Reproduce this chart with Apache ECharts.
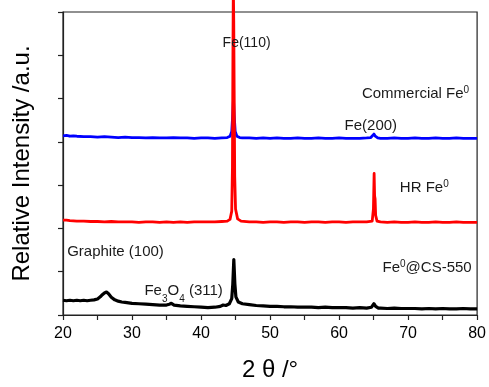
<!DOCTYPE html>
<html>
<head>
<meta charset="utf-8">
<script src="https://cdn.jsdelivr.net/npm/echarts@6/dist/echarts.min.js"></script>
<style>
  html, body { margin: 0; padding: 0; background: #fff; }
  #chart { width: 489px; height: 387px; }
</style>
</head>
<body>
<div id="chart"></div>
<script>
// XRD patterns: [2θ (deg), offset intensity (a.u.)]
const commercialFe = [
  [20,4.14],[20.5,4.15],[21,4.13],[21.5,4.14],[22,4.13],[23,4.12],[24,4.12],[25,4.11],[26,4.12],[27,4.11],
  [28,4.10],[29,4.11],[30,4.10],[31,4.10],[32,4.09],[33,4.10],[34,4.09],[35,4.09],[36,4.10],[37,4.09],
  [38,4.09],[39,4.08],[40,4.09],[41,4.09],[42,4.08],[43,4.09],[43.8,4.10],[44.2,4.13],[44.45,4.24],[44.6,4.65],
  [44.7,4.99],[44.8,4.62],[44.95,4.24],[45.2,4.13],[45.6,4.10],[46,4.09],[47,4.09],[48,4.08],[49,4.09],[50,4.08],
  [51,4.09],[52,4.08],[53,4.08],[54,4.09],[55,4.08],[56,4.08],[57,4.09],[58,4.08],[59,4.08],[60,4.09],
  [61,4.08],[62,4.08],[63,4.08],[64,4.09],[64.6,4.10],[64.85,4.14],[65.05,4.18],[65.25,4.13],[65.6,4.09],[66,4.08],
  [67,4.08],[68,4.09],[69,4.08],[70,4.08],[71,4.09],[72,4.08],[73,4.08],[74,4.09],[75,4.08],[76,4.08],
  [77,4.09],[78,4.08],[79,4.08],[80,4.08]
];
const hrFe = [
  [20,2.19],[20.5,2.19],[21,2.18],[22,2.17],[23,2.17],[24,2.16],[25,2.16],[26,2.15],[27,2.16],[28,2.15],
  [29,2.15],[30,2.15],[31,2.14],[32,2.15],[33,2.15],[34,2.14],[35,2.15],[36,2.14],[37,2.15],[38,2.14],
  [39,2.15],[40,2.15],[41,2.15],[42,2.15],[43,2.16],[43.8,2.17],[44.2,2.21],[44.45,2.40],[44.55,3.40],[44.62,6.00],
  [44.68,7.60],[44.74,6.80],[44.80,5.20],[44.88,3.20],[45.0,2.45],[45.3,2.22],[45.8,2.17],[46,2.16],[47,2.15],[48,2.15],
  [49,2.14],[50,2.15],[51,2.15],[52,2.14],[53,2.15],[54,2.15],[55,2.14],[56,2.15],[57,2.15],[58,2.14],
  [59,2.15],[60,2.15],[61,2.14],[62,2.15],[63,2.15],[64,2.15],[64.8,2.17],[64.98,2.45],[65.08,3.27],[65.15,2.75],
  [65.22,2.68],[65.3,2.30],[65.5,2.17],[66,2.15],[67,2.14],[68,2.15],[69,2.14],[70,2.14],[71,2.15],[72,2.14],
  [73,2.14],[74,2.15],[75,2.14],[76,2.14],[77,2.15],[78,2.14],[79,2.14],[80,2.14]
];
const feCs550 = [
  [20,0.34],[20.5,0.33],[21,0.34],[21.5,0.33],[22,0.34],[22.5,0.33],[23,0.34],[23.5,0.33],[24,0.34],[24.5,0.35],
  [25,0.37],[25.4,0.42],[25.7,0.47],[26,0.51],[26.3,0.53],[26.6,0.49],[27,0.41],[27.5,0.35],[28,0.32],[28.5,0.30],
  [29,0.29],[30,0.27],[31,0.26],[32,0.25],[33,0.24],[34,0.23],[35,0.23],[35.4,0.25],[35.7,0.27],[36.1,0.23],
  [37,0.21],[38,0.20],[39,0.19],[40,0.18],[41,0.17],[42,0.18],[42.8,0.20],[43.2,0.23],[43.6,0.22],[44.1,0.26],
  [44.45,0.38],[44.6,0.70],[44.75,1.28],[44.9,0.72],[45.05,0.42],[45.4,0.30],[46,0.26],[47,0.24],[48,0.22],[49,0.21],
  [50,0.20],[51,0.20],[52,0.19],[53,0.19],[54,0.18],[55,0.18],[56,0.18],[57,0.17],[58,0.18],[59,0.17],
  [60,0.17],[61,0.17],[62,0.16],[63,0.17],[64,0.16],[64.7,0.18],[65.05,0.26],[65.3,0.20],[65.7,0.16],[66,0.16],
  [67,0.15],[68,0.16],[69,0.15],[70,0.15],[71,0.15],[72,0.14],[73,0.15],[74,0.14],[75,0.15],[76,0.14],
  [77,0.14],[78,0.15],[79,0.14],[80,0.14]
];
const xTickLabels = ['20', '30', '40', '50', '60', '70', '80'];

// Peak / sample annotations anchored in data space [2θ, intensity]
const annotations = [
  { text: '{m|Fe(110)}',                       at: [46.6, 6.27],  align: 'center' },
  { text: '{t|Commercial Fe}{s|0}',            at: [78.85, 5.10], align: 'right' },
  { text: '{t|Fe(200)}',                       at: [64.6, 4.37],  align: 'center' },
  { text: '{t|HR Fe}{s|0}',                    at: [68.8, 2.93],  align: 'left' },
  { text: '{t|Graphite (100)}',                at: [20.6, 1.46],  align: 'left' },
  { text: '{t|Fe}{b|3}{t|O}{b|4}{t| (311)}',   at: [31.8, 0.55],  align: 'left' },
  { text: '{t|Fe}{s|0}{t|@CS-550}',            at: [66.3, 1.10],  align: 'left' }
];

const FONT = '"Liberation Sans", Arial, Helvetica, sans-serif';
const AXIS_COLOR = '#222';

const chart = echarts.init(document.getElementById('chart'), null, { renderer: 'canvas' });

function lineSeries(name, data, color, width, clip) {
  return {
    name, type: 'line', data,
    showSymbol: false, symbol: 'none', smooth: false, clip,
    lineStyle: { color, width, join: 'round' },
    emphasis: { disabled: true }
  };
}

chart.setOption({
  animation: false,
  backgroundColor: '#fff',
  grid: {
    left: 63, right: 9, top: 12, bottom: 69,
    show: true, borderColor: AXIS_COLOR, borderWidth: 1.2, backgroundColor: 'transparent'
  },
  xAxis: {
    type: 'value', min: 20, max: 80, interval: 5,
    name: '2 θ /°', nameLocation: 'middle', nameGap: 43,
    nameTextStyle: { fontSize: 24, color: '#000', fontFamily: FONT },
    axisLine: { show: true, lineStyle: { color: AXIS_COLOR, width: 1.2 } },
    axisTick: { show: true, inside: false, length: 5, lineStyle: { color: AXIS_COLOR, width: 1.2 } },
    axisLabel: {
      fontSize: 16, color: '#000', fontFamily: FONT, margin: 11,
      formatter: v => (xTickLabels.indexOf(String(v)) >= 0 ? String(v) : '')
    },
    splitLine: { show: false }
  },
  yAxis: {
    type: 'value', min: 0, max: 7, interval: 1,
    name: 'Relative Intensity /a.u.', nameLocation: 'middle', nameGap: 29,
    nameTextStyle: { fontSize: 24, color: '#000', fontFamily: FONT },
    axisLine: { show: true, lineStyle: { color: AXIS_COLOR, width: 1.2 } },
    axisTick: { show: true, inside: false, length: 5, lineStyle: { color: AXIS_COLOR, width: 1.2 } },
    axisLabel: { show: false },
    splitLine: { show: false }
  },
  series: [
    lineSeries('Commercial Fe0', commercialFe, '#0000ff', 2.8, true),
    lineSeries('HR Fe0', hrFe, '#ff0000', 2.8, false),
    lineSeries('Fe0@CS-550', feCs550, '#000000', 3.2, true)
  ]
});

const richStyles = {
  t: { fontSize: 15, fontFamily: FONT, fill: '#1a1a1a', color: '#1a1a1a', lineHeight: 17 },
  m: { fontSize: 14, fontFamily: FONT, fill: '#1a1a1a', color: '#1a1a1a', lineHeight: 17 },
  s: { fontSize: 10, fontFamily: FONT, fill: '#1a1a1a', color: '#1a1a1a', verticalAlign: 'top', lineHeight: 10 },
  b: { fontSize: 10, fontFamily: FONT, fill: '#1a1a1a', color: '#1a1a1a', verticalAlign: 'bottom', lineHeight: 10, padding: [0, 0, -5, 0] }
};

const graphics = annotations.map(a => {
  const p = chart.convertToPixel({ xAxisIndex: 0, yAxisIndex: 0 }, a.at);
  return {
    type: 'text', x: p[0], y: p[1], z: 100, silent: true,
    style: {
      text: a.text, rich: richStyles, align: a.align, verticalAlign: 'middle',
      fill: '#1a1a1a', font: '15px ' + FONT
    }
  };
});
chart.setOption({ graphic: graphics });
</script>
</body>
</html>
